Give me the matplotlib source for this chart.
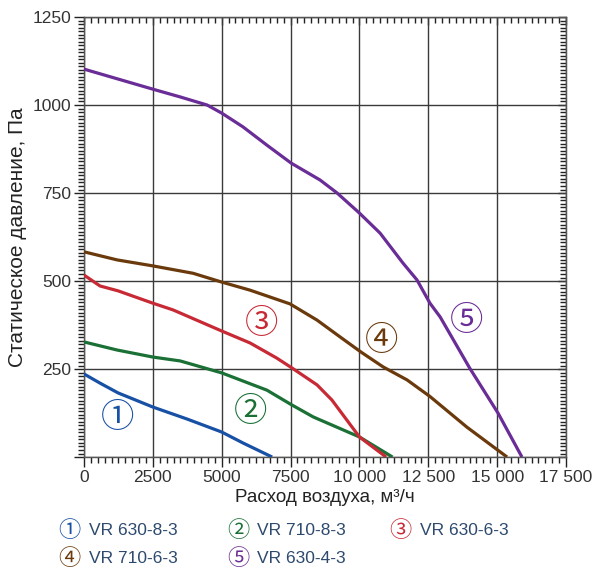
import matplotlib
matplotlib.use('Agg')
import matplotlib.pyplot as plt
from matplotlib.ticker import MultipleLocator, FuncFormatter, NullFormatter

plt.rcParams['font.family'] = ['Liberation Sans', 'DejaVu Sans']

# данные кривых (расход, м3/ч ; давление, Па)
x1 = [0, 580, 1240, 2500, 3740, 5000, 5770, 6830]
y1 = [236, 210, 182, 142, 108, 71, 40, 0]

x2 = [0, 1200, 2500, 3490, 5000, 6640, 7500, 8320, 10000, 11200]
y2 = [327, 304, 284, 273, 239, 190, 150, 114, 57, 0]

x3 = [0, 580, 1240, 2500, 3230, 5000, 6030, 7000, 7550, 8460, 9000, 10000, 10970]
y3 = [517, 486, 472, 437, 418, 358, 324, 281, 253, 205, 162, 57, 0]

x4 = [0, 1200, 2500, 3960, 5000, 6030, 7480, 8460, 9300, 10060, 10860, 11730, 12560, 13900, 15360]
y4 = [583, 560, 543, 522, 497, 474, 435, 389, 341, 298, 256, 219, 172, 85, 0]

x5 = [0, 2500, 3490, 4470, 5000, 5770, 6640, 7520, 8570, 9190, 10000, 10750, 11580, 12090,
      12560, 12930, 14000, 15030, 15900]
y5 = [1102, 1045, 1023, 1000, 977, 938, 886, 835, 787, 750, 693, 636, 551, 503,
      437, 398, 253, 125, 0]

names = ['VR 630-8-3', 'VR 710-8-3', 'VR 630-6-3', 'VR 710-6-3', 'VR 630-4-3']
marks = ['①', '②', '③', '④', '⑤']
colors = ['#1750a5', '#1a7035', '#c72a35', '#6b3a0c', '#6a2c96']
label_x = [1230, 6030, 6460, 10820, 13900]
label_y = [111, 128, 378, 330, 389]
mark_font = ['Noto Sans CJK JP', 'DejaVu Sans']

fig = plt.figure(figsize=(5.92, 5.73), dpi=100)
ax = fig.add_axes([0.1419, 0.2024, 0.8142, 0.7679])

curves = [(x1, y1), (x2, y2), (x3, y3), (x4, y4), (x5, y5)]
for (xs, ys), c in zip(curves, colors):
    ax.plot(xs, ys, color=c, lw=2.3, solid_capstyle='butt', solid_joinstyle='round', zorder=3)

for m, lx, ly, c in zip(marks, label_x, label_y, colors):
    ax.text(lx, ly, m, color=c, fontsize=24, ha='center', va='center', zorder=4,
            family=mark_font)

ax.set_xlim(0, 17500)
ax.set_ylim(0, 1250)

ax.xaxis.set_major_locator(MultipleLocator(2500))
ax.xaxis.set_minor_locator(MultipleLocator(250))
ax.yaxis.set_major_locator(MultipleLocator(250))
ax.yaxis.set_minor_locator(MultipleLocator(10))

def fmt_x(v, pos):
    v = int(round(v))
    if v >= 10000:
        return '{} {:03d}'.format(v // 1000, v % 1000)
    return str(v)

def fmt_y(v, pos):
    v = int(round(v))
    return '' if v == 0 else str(v)

ax.xaxis.set_major_formatter(FuncFormatter(fmt_x))
ax.yaxis.set_major_formatter(FuncFormatter(fmt_y))

ax.grid(True, which='major', color='#3a3a3a', lw=1.0, zorder=1)
tick_col = '#222222'
ax.tick_params(axis='both', which='major', direction='out', length=7, width=1.0,
               color=tick_col, labelsize=12.5, labelcolor='#333333', pad=2)
ax.tick_params(axis='both', which='minor', direction='out', length=4, width=1.0,
               color=tick_col)

# засечки внутрь сверху и справа
top = ax.secondary_xaxis('top')
top.xaxis.set_major_locator(MultipleLocator(2500))
top.xaxis.set_minor_locator(MultipleLocator(250))
top.xaxis.set_major_formatter(NullFormatter())
top.tick_params(which='major', direction='in', length=6, width=1.0, color=tick_col)
top.tick_params(which='minor', direction='in', length=4, width=1.0, color=tick_col)
right = ax.secondary_yaxis('right')
right.yaxis.set_major_locator(MultipleLocator(250))
right.yaxis.set_minor_locator(MultipleLocator(10))
right.yaxis.set_major_formatter(NullFormatter())
right.tick_params(which='major', direction='in', length=6, width=1.0, color=tick_col)
right.tick_params(which='minor', direction='in', length=4, width=1.0, color=tick_col)

for s in ax.spines.values():
    s.set_color('#555555')
    s.set_linewidth(1.0)
top.spines['top'].set_color('#555555')
right.spines['right'].set_color('#555555')

ax.set_xlabel('Расход воздуха, м³/ч', fontsize=13.5, color='#222222', labelpad=3)
ax.set_ylabel('Статическое давление, Па', fontsize=15, color='#222222', labelpad=4)

# подписи моделей внизу
leg_x = [0.118, 0.402, 0.677]
leg_y = [0.075, 0.026]
for i, (m, n, c) in enumerate(zip(marks, names, colors)):
    col = i % 3
    row = i // 3
    fig.text(leg_x[col], leg_y[row], m, color=c, fontsize=16, ha='center', va='center',
             family=mark_font)
    fig.text(leg_x[col] + 0.032, leg_y[row], n, color='#2d4a6e', fontsize=12.5,
             ha='left', va='center')

fig.savefig('out.png', dpi=100)
